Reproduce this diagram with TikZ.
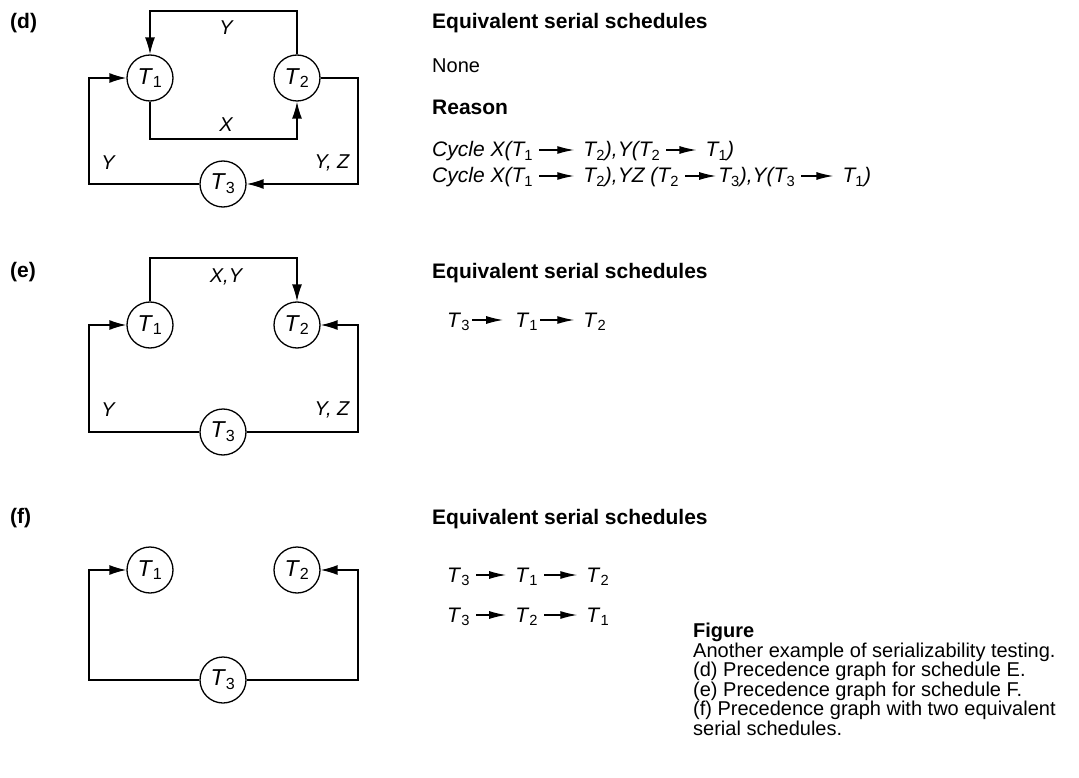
\documentclass[tikz,border=0pt]{standalone}
\usepackage{fontspec}
\setmainfont{Liberation Sans}
\usetikzlibrary{arrows.meta,positioning}

\newcommand{\Tn}[1]{\textit{T}\textsubscript{\upshape #1}}

\begin{document}
\begin{tikzpicture}[x=1pt,y=-1pt,
    trans/.style={circle, draw, line width=1.3pt, minimum size=46pt, inner sep=0pt, font=\fontsize{23}{26}\selectfont},
    wire/.style={line width=1.5pt},
    arr/.style={wire, -{Latex[length=17pt,width=10pt]}},
    lbl/.style={font=\itshape\fontsize{20}{24}\selectfont},
    part/.style={font=\bfseries\fontsize{21}{24}\selectfont, anchor=base west, inner sep=0pt},
    head/.style={font=\bfseries\fontsize{21}{24}\selectfont, anchor=base west, inner sep=0pt},
    plain/.style={font=\fontsize{20}{24}\selectfont, anchor=base west, inner sep=0pt},
    seq/.style={font=\fontsize{21}{24}\selectfont, inner sep=0pt, text height=14pt, text depth=0pt},
    cyc/.style={seq, font=\itshape\fontsize{21}{24}\selectfont},
    tarr/.style={line width=1.3pt, -{Latex[length=17pt,width=8pt]}, shorten <=6pt, shorten >=9pt}]

    \useasboundingbox (0,0) rectangle (1079,778);

    % --- (d) ---
    \node[part] (pd) at (10,29) {(d)};
    \node[trans]                                    (d1) at (150,78) {\Tn1};
    \node[trans, on grid, right=147pt of d1]        (d2) {\Tn2};
    \node[trans, on grid, below right=106pt and 73pt of d1] (d3) {\Tn3};

    \draw[arr] (d2.north) |- ([yshift=67pt]d1.center) -- (d1.north);
    \draw[arr] (d1.south) |- ([yshift=-61pt]d2.center) -- (d2.south);
    \draw[arr] (d3.west) -| ([xshift=-61pt]d1.center) -- (d1.west);
    \draw[arr] (d2.east) -- ([xshift=61pt]d2.center) |- (d3.east);

    \node[lbl] at (226,28)  {Y};
    \node[lbl] at (226,125) {X};
    \node[lbl] at (108,163) {Y};
    \node[lbl] at (332,163) {Y, Z};

    \node[head]  (hd) at (432,29)  {Equivalent serial schedules};
    \node[plain] (nd) at (432,73)  {None};
    \node[head]  (rd) at (432,115) {Reason};

    \node[cyc, anchor=base west]      (c1a) at (432,157) {Cycle X(\Tn1};
    \node[cyc, base right=50pt of c1a] (c1b) {\Tn2),Y(\Tn2};
    \node[cyc, base right=45pt of c1b] (c1c) {\Tn1)};
    \draw[tarr] (c1a) -- (c1b);
    \draw[tarr] (c1b) -- (c1c);

    \node[cyc, anchor=base west]      (c2a) at (432,183) {Cycle X(\Tn1};
    \node[cyc, base right=50pt of c2a] (c2b) {\Tn2),YZ (\Tn2};
    \node[cyc, base right=39pt of c2b] (c2c) {\Tn3),Y(\Tn3};
    \node[cyc, base right=47pt of c2c] (c2d) {\Tn1)};
    \draw[tarr] (c2a) -- (c2b);
    \draw[tarr, shorten >=2pt] (c2b) -- (c2c);
    \draw[tarr] (c2c) -- (c2d);

    % --- (e) ---
    \node[part] (pe) at (10,277) {(e)};
    \node[trans]                                    (e1) at (150,325) {\Tn1};
    \node[trans, on grid, right=147pt of e1]        (e2) {\Tn2};
    \node[trans, on grid, below right=107pt and 73pt of e1] (e3) {\Tn3};

    \draw[arr] (e1.north) |- ([yshift=67pt]e2.center) -- (e2.north);
    \draw[arr] (e3.west) -| ([xshift=-61pt]e1.center) -- (e1.west);
    \draw[arr] (e3.east) -| ([xshift=61pt]e2.center) -- (e2.east);

    \node[lbl] at (226,277) {X,Y};
    \node[lbl] at (108,410) {Y};
    \node[lbl] at (332,410) {Y, Z};

    \node[head] (he) at (432,278) {Equivalent serial schedules};
    \node[seq, anchor=base west]     (ea) at (447,327) {\Tn3};
    \node[seq, base right=45pt of ea] (eb) {\Tn1};
    \node[seq, base right=45pt of eb] (ec) {\Tn2};
    \draw[tarr, shorten <=2pt, shorten >=12pt] (ea) -- (eb);
    \draw[tarr, shorten <=2pt] (eb) -- (ec);

    % --- (f) ---
    \node[part] (pf) at (10,523) {(f)};
    \node[trans]                                    (f1) at (150,570) {\Tn1};
    \node[trans, on grid, right=147pt of f1]        (f2) {\Tn2};
    \node[trans, on grid, below right=110pt and 73pt of f1] (f3) {\Tn3};

    \draw[arr] (f3.west) -| ([xshift=-61pt]f1.center) -- (f1.west);
    \draw[arr] (f3.east) -| ([xshift=61pt]f2.center) -- (f2.east);

    \node[head] (hf) at (432,524) {Equivalent serial schedules};
    \node[seq, anchor=base west]     (fa) at (447,582) {\Tn3};
    \node[seq, base right=45pt of fa] (fb) {\Tn1};
    \node[seq, base right=48pt of fb] (fc) {\Tn2};
    \draw[tarr] (fa) -- (fb);
    \draw[tarr] (fb) -- (fc);

    \node[seq, anchor=base west]     (fd) at (447,622) {\Tn3};
    \node[seq, base right=45pt of fd] (fe) {\Tn2};
    \node[seq, base right=48pt of fe] (ff) {\Tn1};
    \draw[tarr] (fd) -- (fe);
    \draw[tarr] (fe) -- (ff);

    % --- caption ---
    \node[anchor=north west, align=left, inner sep=0pt, font=\fontsize{20}{19.5}\selectfont] (cap) at (693,623)
      {\textbf{Figure}\\
       Another example of serializability testing.\\
       (d) Precedence graph for schedule E.\\
       (e) Precedence graph for schedule F.\\
       (f) Precedence graph with two equivalent\\
       serial schedules.};
\end{tikzpicture}
\end{document}
